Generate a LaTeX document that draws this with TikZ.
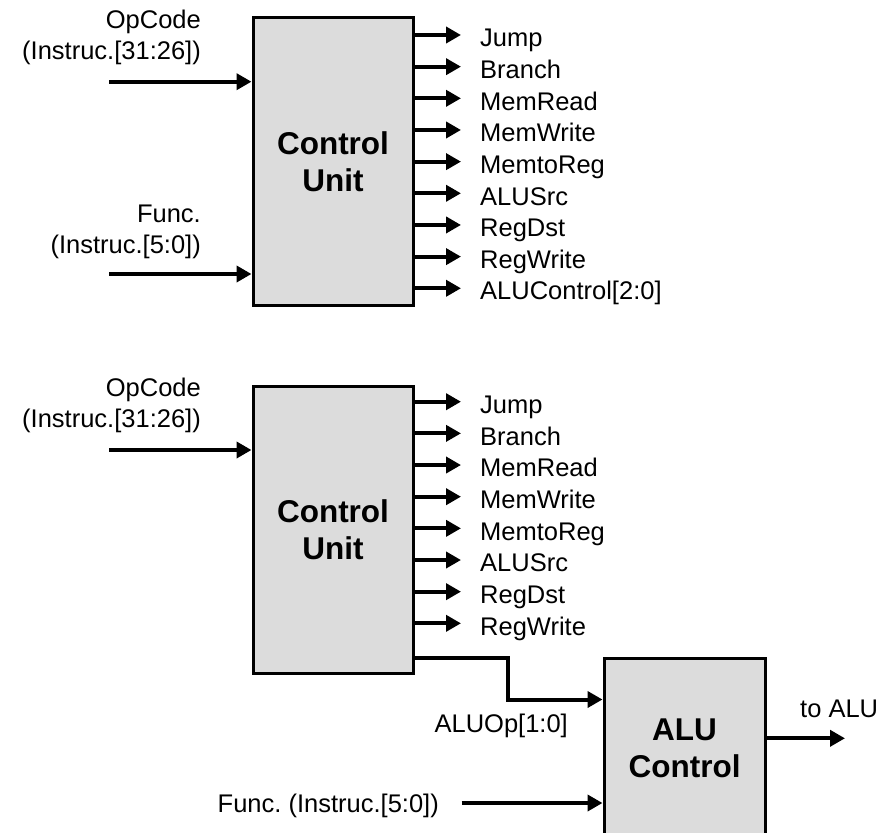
\documentclass[tikz,border=0pt]{standalone}
\usepackage{fontspec}
\setmainfont{Liberation Sans}
\usetikzlibrary{arrows.meta}
\definecolor{blococinza}{RGB}{220,220,220}

\begin{document}
\begin{tikzpicture}[x=1pt, y=-1pt,
    bloco/.style={draw, line width=3pt, fill=blococinza, minimum width=160pt, align=center,
        font=\fontsize{31.5}{37.3}\selectfont\bfseries},
    sinal/.style={line width=4pt, -{Triangle[length=15pt, width=16pt]}},
    rotulo/.style={font=\fontsize{25.5}{31.7}\selectfont, inner sep=0pt},
    saida/.style={rotulo, anchor=west, text height=23.4pt, text depth=0pt}]
    \useasboundingbox (0,0) rectangle (890,832);
    \clip (0,0) rectangle (890,832);

    % Blocos
    \node[bloco, minimum height=287pt] (cu1) at (333,161.5) {Control\\Unit};
    \node[bloco, minimum height=287pt] (cu2) at (333,529.5) {Control\\Unit};
    \node[bloco, minimum width=161pt, minimum height=181pt] (aluc) at (684.5,748.5) {ALU\\Control};

    % Entradas (em cima)
    \node[rotulo, anchor=base east, align=right] (op1) at (201,60) {OpCode\\(Instruc.[31:26])};
    \node[rotulo, anchor=base east, align=right] (fn1) at (201,253.7) {Func.\\(Instruc.[5:0])};
    \coordinate (op1in) at (109,81.7);
    \coordinate (fn1in) at (109,274);
    \draw[sinal] (op1in) -- (op1in -| cu1.west);
    \draw[sinal] (fn1in) -- (fn1in -| cu1.west);

    % Saidas (em cima)
    \foreach \n/\s in {0/Jump, 1/Branch, 2/MemRead, 3/MemWrite, 4/MemtoReg,
                       5/ALUSrc, 6/RegDst, 7/RegWrite, 8/{ALUControl[2:0]}} {
        \node[saida] (s1\n) at (480,35+31.66*\n) {\s};
        \draw[sinal, shorten >=19pt] (s1\n.west -| cu1.east) -- (s1\n.west);
    }

    % Entradas (em baixo)
    \node[rotulo, anchor=base east, align=right] (op2) at (201,427.7) {OpCode\\(Instruc.[31:26])};
    \coordinate (op2in) at (109,450);
    \draw[sinal] (op2in) -- (op2in -| cu2.west);

    % Saidas (em baixo)
    \foreach \n/\s in {0/Jump, 1/Branch, 2/MemRead, 3/MemWrite, 4/MemtoReg,
                       5/ALUSrc, 6/RegDst, 7/RegWrite} {
        \node[saida] (s2\n) at (480,401.7+31.66*\n) {\s};
        \draw[sinal, shorten >=19pt] (s2\n.west -| cu2.east) -- (s2\n.west);
    }

    % ALU Control
    \coordinate (opdobra) at (508.3,658);
    \draw[sinal] (opdobra -| cu2.east) -- (opdobra) |- ([yshift=-43pt]aluc.north west);
    \node[rotulo, anchor=base east] (aluop) at (568,732) {ALUOp[1:0]};
    \node[rotulo, anchor=base east] (fn2) at (439,812) {Func.\ (Instruc.[5:0])};
    \coordinate (fn2in) at (461.7,803);
    \draw[sinal] (fn2in) -- (fn2in -| aluc.west);
    \node[rotulo, anchor=base west] (toalu) at (800,717) {to ALU};
    \coordinate (aluout) at (845,738.3);
    \draw[sinal] (aluout -| aluc.east) -- (aluout);
\end{tikzpicture}
\end{document}
